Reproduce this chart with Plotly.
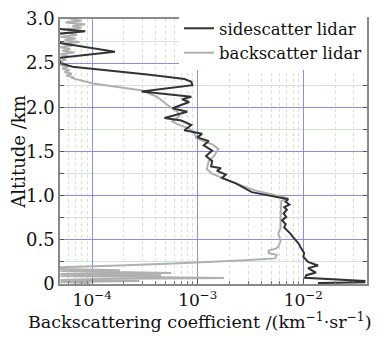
import plotly.graph_objects as go

# Sidescatter lidar (altitude km, backscattering coefficient km^-1 sr^-1)
alt_side = [2.89, 2.86, 2.83, 2.76, 2.73, 2.63, 2.56, 2.50, 2.46, 2.42, 2.37, 2.32, 2.29, 2.25,
            2.18, 2.12, 2.09, 2.06, 1.99, 1.95, 1.88, 1.85, 1.80, 1.74, 1.70, 1.66, 1.62, 1.57,
            1.51, 1.45, 1.39, 1.33, 1.31, 1.28, 1.24, 1.20, 1.14, 1.04, 1.00, 0.96, 0.93, 0.90,
            0.87, 0.84, 0.80, 0.76, 0.72, 0.68, 0.64, 0.60, 0.57, 0.53, 0.49, 0.46, 0.42, 0.38,
            0.35, 0.31, 0.25, 0.21, 0.18, 0.13, 0.10, 0.07, 0.045, 0.034, 0.02, 0.01]
coef_side = [4.5e-5, 8.6e-5, 4.5e-5, 4.5e-5, 4.8e-5, 1.64e-4, 4.8e-5, 5.0e-5, 6.5e-5, 1.48e-4,
             3.5e-4, 7.5e-4, 8.7e-4, 8.9e-4, 2.94e-4, 8.7e-4, 7.1e-4, 8.3e-4, 5.77e-4, 7.96e-4,
             4.84e-4, 7.0e-4, 8.7e-4, 7.46e-4, 1.10e-3, 9.9e-4, 1.27e-3, 1.14e-3, 1.37e-3, 1.20e-3,
             1.37e-3, 1.34e-3, 1.66e-3, 1.52e-3, 1.85e-3, 1.70e-3, 2.30e-3, 3.25e-3, 4.7e-3, 7.2e-3,
             6.8e-3, 7.4e-3, 6.6e-3, 7.0e-3, 6.5e-3, 6.9e-3, 6.3e-3, 6.8e-3, 6.6e-3, 7.2e-3,
             7.55e-3, 8.0e-3, 8.6e-3, 9.0e-3, 9.4e-3, 9.8e-3, 1.02e-2, 1.0e-2, 1.11e-2, 1.38e-2,
             1.11e-2, 1.32e-2, 1.07e-2, 1.04e-2, 2.83e-2, 3.8e-2, 3.8e-2, 1.38e-2]

# Backscatter lidar
alt_back = [3.00, 2.98, 2.96, 2.94, 2.92, 2.90, 2.88, 2.86, 2.84, 2.82, 2.80, 2.78, 2.76, 2.74,
            2.72, 2.70, 2.68, 2.66, 2.64, 2.62, 2.60, 2.58, 2.56, 2.54, 2.52, 2.50, 2.48, 2.46,
            2.44, 2.42, 2.40, 2.38, 2.36, 2.34, 2.33, 2.29, 2.27, 2.19, 2.12, 2.01, 1.955, 1.90,
            1.84, 1.81, 1.76, 1.71, 1.65, 1.58, 1.53, 1.45, 1.39, 1.30, 1.25, 1.17, 1.06, 0.97,
            0.94, 0.78, 0.64, 0.57, 0.49, 0.42, 0.40, 0.38, 0.35, 0.33, 0.29, 0.27, 0.25, 0.236,
            0.21, 0.19, 0.169, 0.157, 0.146, 0.124, 0.112, 0.10, 0.09, 0.067, 0.056, 0.045, 0.034,
            0.022, 0.011]
coef_back = [6.2e-5, 7.9e-5, 5.58e-5, 8.6e-5, 6.5e-5, 7.9e-5, 5.2e-5, 8.1e-5, 5.95e-5, 7.2e-5,
             5.0e-5, 6.9e-5, 5.46e-5, 7.6e-5, 5.2e-5, 6.5e-5, 5.0e-5, 6.2e-5, 5.2e-5, 6.8e-5,
             5.0e-5, 5.9e-5, 5.0e-5, 5.7e-5, 4.8e-5, 5.4e-5, 5.0e-5, 5.9e-5, 5.2e-5, 6.1e-5,
             5.46e-5, 6.4e-5, 5.7e-5, 6.6e-5, 6.5e-5, 9.0e-5, 1.02e-4, 3.0e-4, 4.1e-4, 5.4e-4,
             6.4e-4, 6.7e-4, 5.75e-4, 6.4e-4, 8.3e-4, 9.3e-4, 9.7e-4, 1.37e-3, 1.57e-3, 1.43e-3,
             1.27e-3, 1.22e-3, 1.37e-3, 1.95e-3, 3.5e-3, 7.2e-3, 6.2e-3, 6.1e-3, 6.1e-3, 5.8e-3,
             6.1e-3, 5.8e-3, 5.5e-3, 4.7e-3, 4.7e-3, 5.6e-3, 5.4e-3, 2.8e-3, 1.37e-3, 6.7e-4,
             1.8e-4, 5.0e-5, 5.0e-5, 1.83e-4, 5.0e-5, 5.6e-4, 5.0e-5, 4.5e-4, 5.0e-5, 1.77e-3,
             1.14e-4, 5.0e-5, 2.8e-4, 5.0e-5, 9.6e-5]

x_tickvals = [1e-4, 1e-3, 1e-2]
x_ticktext = ["10<sup>−4</sup>", "10<sup>−3</sup>", "10<sup>−2</sup>"]
x_minorvals = [m * d for d in (1e-5, 1e-4, 1e-3, 1e-2) for m in range(2, 10)]
y_tickvals = [0, 0.5, 1.0, 1.5, 2.0, 2.5, 3.0]
y_ticktext = ["0", "0.5", "1.0", "1.5", "2.0", "2.5", "3.0"]
y_minorvals = [0.25, 0.75, 1.25, 1.75, 2.25, 2.75]
x_title = "Backscattering coefficient /(km<sup>−1</sup>·sr<sup>−1</sup>)"
y_title = "Altitude /km"

FONT = "DejaVu Serif"
MAJOR = "#8e8ee0"
MINOR = "#cde6cd"
FRAME = "#8a8a8a"

fig = go.Figure()
fig.add_trace(go.Scatter(x=coef_back, y=alt_back, mode="lines", name="backscatter lidar",
                         line=dict(color="#b0b0b0", width=2)))
fig.add_trace(go.Scatter(x=coef_side, y=alt_side, mode="lines", name="sidescatter lidar",
                         line=dict(color="#333333", width=2)))

fig.update_layout(
    width=377, height=338,
    margin=dict(l=60, r=8, t=17, b=54),
    paper_bgcolor="white", plot_bgcolor="white",
    font=dict(family=FONT, size=17, color="#111111"),
    showlegend=True,
    legend=dict(x=1, xanchor="right", y=1.03, yanchor="top", bgcolor="white",
                borderwidth=0, traceorder="reversed", font=dict(size=16.5, family=FONT),
                tracegroupgap=0, itemwidth=30),
    xaxis=dict(type="log", range=[-4.305, -1.396],
               tickvals=x_tickvals, ticktext=x_ticktext,
               showgrid=True, gridcolor=MAJOR, gridwidth=1,
               ticks="inside", ticklen=5, tickcolor="#555555",
               showline=True, linecolor=FRAME, linewidth=1.5, mirror=True,
               minor=dict(tickmode="array", tickvals=x_minorvals,
                          ticks="inside", ticklen=3, tickcolor="#777777",
                          showgrid=True, gridcolor=MINOR, griddash="dot", gridwidth=1),
               tickfont=dict(size=17), zeroline=False),
    yaxis=dict(range=[0, 3.0], tickvals=y_tickvals, ticktext=y_ticktext,
               showgrid=True, gridcolor=MAJOR, gridwidth=1,
               ticks="inside", ticklen=4, tickcolor="#555555",
               showline=True, linecolor=FRAME, linewidth=1.5, mirror="ticks",
               minor=dict(tickmode="array", tickvals=y_minorvals,
                          ticks="inside", ticklen=4, tickcolor="#555555",
                          showgrid=True, gridcolor=MINOR, gridwidth=1),
               tickfont=dict(size=18), zeroline=False),
    annotations=[
        dict(text=x_title, xref="paper", yref="paper", x=0.453, y=-0.09,
             xanchor="center", yanchor="top", showarrow=False, font=dict(size=17.5)),
        dict(text=y_title, xref="paper", yref="paper", x=-0.136, y=0.5,
             xanchor="center", yanchor="middle", textangle=-90, showarrow=False,
             font=dict(size=18)),
    ],
)

fig.write_html("out.html")
